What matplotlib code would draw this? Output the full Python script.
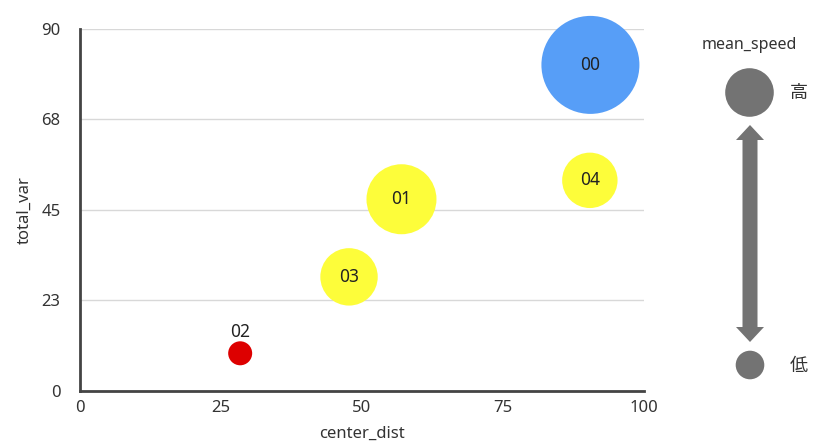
import matplotlib
matplotlib.use("Agg")
import matplotlib.pyplot as plt
from matplotlib.patches import Circle, Polygon

plt.rcParams['font.family'] = ['Noto Sans', 'Noto Sans CJK JP', 'DejaVu Sans']

labels = ["00", "01", "02", "03", "04"]
center_dist = [90.5, 57.0, 28.4, 47.7, 90.4]
total_var = [81.0, 47.6, 9.3, 28.3, 52.3]
mean_speed = [49, 35, 12, 28.7, 27.7]  # bubble radius scale (px)
colors = ["#579ef7", "#fdfd3a", "#dd0000", "#fdfd3a", "#fdfd3a"]
xticks = [0, 25, 50, 75, 100]
yticks = [0, 22.5, 45, 67.5, 90]
ytick_labels = ["0", "23", "45", "68", "90"]

W, H = 817, 445
fig = plt.figure(figsize=(W / 100, H / 100), dpi=100)
ax = fig.add_axes([80 / W, (H - 390.7) / H, (644 - 80) / W, (390.7 - 28.7) / H])

sizes = [(2 * r * 0.72) ** 2 for r in mean_speed]
ax.scatter(center_dist, total_var, s=sizes, c=colors, edgecolors='none', zorder=3, clip_on=False)
for lab, x, y, r in zip(labels, center_dist, total_var, mean_speed):
    if r < 20:
        ax.annotate(lab, (x, y), xytext=(0, r * 0.72 + 0.5), textcoords='offset points',
                    ha='center', va='bottom', fontsize=12.5, color='#222222', zorder=4)
    else:
        ax.text(x, y, lab, ha='center', va='center', fontsize=12.5, color='#222222', zorder=4)

ax.set_xlim(0, 100)
ax.set_ylim(0, 90)
ax.set_xticks(xticks)
ax.set_yticks(yticks)
ax.set_yticklabels(ytick_labels)
ax.tick_params(length=0, labelsize=12, colors='#333333')
ax.tick_params(axis='y', pad=14)
ax.tick_params(axis='x', pad=7)
ax.grid(axis='y', color='#d8d8d8', linewidth=1)
ax.set_axisbelow(True)
for s in ['top', 'right']:
    ax.spines[s].set_visible(False)
for s in ['left', 'bottom']:
    ax.spines[s].set_color('#444444')
    ax.spines[s].set_linewidth(2)
ax.set_xlabel("center_dist", fontsize=12, color='#333333', labelpad=7)
ax.set_ylabel("total_var", fontsize=12, color='#333333', labelpad=6)

# legend on the right (figure pixel coords)
def fx(px):
    return px / W

def fy(py):
    return (H - py) / H

fig.text(fx(749), fy(45), "mean_speed", ha='center', va='center', fontsize=11.5, color='#333333')
gray = '#737373'
fig.patches.append(Circle((749.5, H - 92.5), 24.3, transform=None, facecolor=gray, edgecolor='none'))
fig.patches.append(Circle((750, H - 365), 14.3, transform=None, facecolor=gray, edgecolor='none'))
cx, top, bot, sw, hw, hl = 750, 125, 342, 7.5, 14, 15
pts = [(cx, top), (cx + hw, top + hl), (cx + sw, top + hl), (cx + sw, bot - hl),
       (cx + hw, bot - hl), (cx, bot), (cx - hw, bot - hl), (cx - sw, bot - hl),
       (cx - sw, top + hl), (cx - hw, top + hl)]
pts = [(fx(a), fy(b)) for a, b in pts]
fig.patches.append(Polygon(pts, closed=True, transform=fig.transFigure, facecolor=gray, edgecolor='none'))
fig.text(fx(799), fy(93), "高", ha='center', va='center', fontsize=13, color='#333333')
fig.text(fx(799), fy(366), "低", ha='center', va='center', fontsize=13, color='#333333')

fig.savefig("out.png", dpi=100)
